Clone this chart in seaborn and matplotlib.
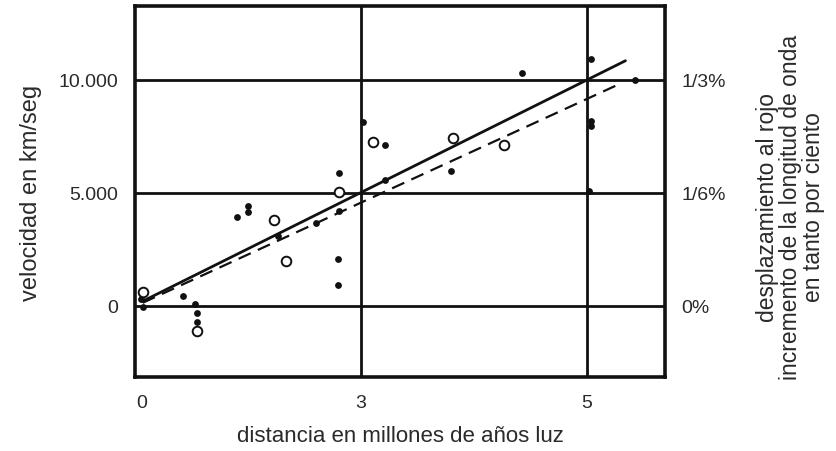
import matplotlib
matplotlib.use("Agg")
import matplotlib.pyplot as plt
import seaborn as sns
import pandas as pd

# Distance (plot units, gridlines at 1 and 2) and velocity in km/s
filled_x = [1.008, 1.106, 0.902, 1.105, 0.902, 0.799, 0.634, 0.450, 0.502, 0.502,
            0.899, 0.899, 0.026, 0.034, 0.211, 0.265, 0.274, 0.274, 1.400, 1.714,
            2.016, 2.016, 2.016, 2.010, 2.212]
filled_v = [8159, 7111, 5872, 5549, 4177, 3646, 3097, 3938, 4159, 4398,
            2066, 916, 296, -71, 442, 75, -336, -735, 5973, 10296,
            10916, 8186, 7965, 5088, 9987]

open_x = [1.054, 0.902, 0.615, 0.670, 0.034, 0.274, 1.407, 1.634]
open_v = [7257, 5053, 3792, 1965, 619, -1106, 7407, 7111]

# Fitted relations: individual nebulae (solid) and grouped nebulae (dashed)
fit_x = [0.034, 2.17]
solid_v = [200, 10850]
dash_x = [0.034, 2.15]
dashed_v = [130, 9850]

x_ticks = [0.03, 1, 2]
x_tick_labels = ["0", "3", "5"]
x_grid = [1, 2]
v_ticks = [0, 5000, 10000]
v_tick_labels = ["0", "5.000", "10.000"]
shift_labels = ["0%", "1/6%", "1/3%"]

sns.set_theme(style="white")
plt.rcParams["font.family"] = ["Liberation Sans", "DejaVu Sans"]

ink = "#111111"
text_c = "#2a2a2a"

fig = plt.figure(figsize=(8.36, 4.52), dpi=100)
ax = fig.add_axes([135 / 836, 1 - 378 / 452, 530 / 836, 371 / 452])

xlim = (0.0, 2.345)
ylim = (-3155, 13274)

# grid lines
for xv in x_grid:
    ax.axvline(xv, color=ink, lw=2.0, zorder=1)
for yv in v_ticks:
    ax.axhline(yv, color=ink, lw=2.0, zorder=1)

lines = pd.DataFrame({"x": fit_x, "v": solid_v})
dlines = pd.DataFrame({"x": dash_x, "v": dashed_v})
sns.lineplot(data=lines, x="x", y="v", ax=ax, color=ink, lw=2.0, zorder=2)
sns.lineplot(data=dlines, x="x", y="v", ax=ax, color=ink, lw=1.6,
             linestyle=(0, (6, 3.5)), zorder=2)

filled = pd.DataFrame({"x": filled_x, "v": filled_v})
opened = pd.DataFrame({"x": open_x, "v": open_v})
sns.scatterplot(data=filled, x="x", y="v", ax=ax, color=ink, s=24,
                linewidth=0, zorder=3)
sns.scatterplot(data=opened, x="x", y="v", ax=ax, facecolor="white",
                edgecolor=ink, s=48, linewidth=1.4, zorder=4)

ax.set_xlim(*xlim)
ax.set_ylim(*ylim)
ax.set_xticks(x_ticks)
ax.set_xticklabels(x_tick_labels)
ax.set_yticks(v_ticks)
ax.set_yticklabels(v_tick_labels)
ax.tick_params(length=0, labelsize=14, colors=text_c, pad=12)
ax.tick_params(axis="x", pad=12)
for sp in ax.spines.values():
    sp.set_color(ink)
    sp.set_linewidth(2.6)

ax.set_xlabel("distancia en millones de años luz", fontsize=16, color=text_c)
ax.set_ylabel("velocidad en km/seg", fontsize=17, color=text_c)
ax.xaxis.set_label_coords(0.5, -0.13)
ax.yaxis.set_label_coords(-0.175, 0.5)

ax2 = ax.twinx()
ax2.set_ylim(*ylim)
ax2.set_yticks(v_ticks)
ax2.set_yticklabels(shift_labels)
ax2.tick_params(length=0, labelsize=14, colors=text_c, pad=12)
for sp in ax2.spines.values():
    sp.set_visible(False)
ax2.set_ylabel("desplazamiento al rojo\nincremento de la longitud de onda\nen tanto por ciento",
               fontsize=16.5, color=text_c, rotation=90, linespacing=1.0,
               multialignment="center")
ax2.yaxis.set_label_coords(1.172, 0.46)
ax2.grid(False)
ax.grid(False)

fig.savefig("out.png", dpi=100, facecolor="white")
